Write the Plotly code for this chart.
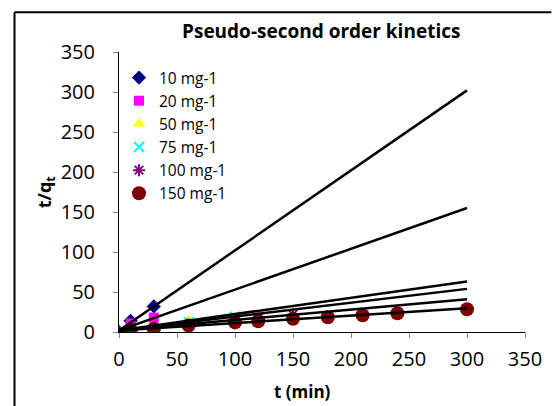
import numpy as np
import plotly.graph_objects as go

# Pseudo-second order kinetic data: t (min) vs t/qt
series_names = ["10 mg-1", "20 mg-1", "50 mg-1", "75 mg-1", "100 mg-1", "150 mg-1"]

t_10 = [0, 10, 30]
y_10 = [0, 14, 32]

t_20 = [0, 10, 30]
y_20 = [0, 10.5, 18]

t_50 = [0, 60]
y_50 = [0, 14]

t_75 = [0, 60, 100]
y_75 = [0, 12, 19]

t_100 = [0, 120, 150]
y_100 = [0, 17, 22]

t_150 = [10, 30, 60, 100, 120, 150, 180, 210, 240, 300]
y_150 = [2.5, 4, 8, 12, 13.5, 16.5, 18.5, 21, 23.5, 28.5]

# Linear fits (t/qt = slope * t + intercept), drawn over 0-300 min
fit_slope = [1.0, 0.51, 0.204, 0.173, 0.13, 0.092]
fit_intercept = [2, 2, 2, 2, 2, 2]
fit_t = [0, 300]

x_ticks = [0, 50, 100, 150, 200, 250, 300, 350]
y_ticks = [0, 50, 100, 150, 200, 250, 300, 350]

series_t = [t_10, t_20, t_50, t_75, t_100, t_150]
series_y = [y_10, y_20, y_50, y_75, y_100, y_150]

markers = [
    dict(symbol="diamond", size=11, color="#000080"),
    dict(symbol="square", size=10, color="#FF00FF"),
    dict(symbol="triangle-up", size=11, color="#FFFF00"),
    dict(symbol="x-thin-open", size=10, color="#00FFFF", line=dict(color="#00FFFF", width=2)),
    dict(symbol="asterisk-open", size=10, color="#800080", line=dict(color="#800080", width=2)),
    dict(symbol="circle", size=14, color="#800000"),
]

fig = go.Figure()

for name, tx, ty, mk in zip(series_names, series_t, series_y, markers):
    fig.add_trace(go.Scatter(x=tx, y=ty, mode="markers", name=name, marker=mk))

for s, b in zip(fit_slope, fit_intercept):
    fx = np.array(fit_t, dtype=float)
    fig.add_trace(go.Scatter(x=fx, y=s * fx + b, mode="lines", showlegend=False,
                             line=dict(color="black", width=2.5), hoverinfo="skip"))

# plot area in pixels: x 119..527, y 52..332.5
L, R, T, B = 119, 527, 52, 332.5
W, H = R - L, B - T


def px(x):
    return (x - L) / W


def py(y):
    return (B - y) / H


font_main = "Open Sans"

fig.update_layout(
    width=554, height=406,
    margin=dict(l=L, r=554 - R, t=T, b=406 - B),
    paper_bgcolor="white", plot_bgcolor="white",
    font=dict(family=font_main, color="black"),
    showlegend=True,
    legend=dict(x=px(119), y=py(61), xanchor="left", yanchor="top",
                font=dict(family=font_main, size=15.5, color="black"),
                bgcolor="rgba(0,0,0,0)", borderwidth=0),
    xaxis=dict(range=[0, 350], tickvals=x_ticks, ticks="outside", ticklen=5,
               tickcolor="#868686", showline=True, linecolor="black", linewidth=1,
               showgrid=False, zeroline=False, tickfont=dict(size=20),
               ticklabelstandoff=4),
    yaxis=dict(range=[0, 350], tickvals=y_ticks, ticks="outside", ticklen=5,
               tickcolor="#868686", showline=True, linecolor="black", linewidth=1,
               showgrid=False, zeroline=False, tickfont=dict(size=20),
               ticklabelstandoff=14),
    annotations=[
        dict(text="<b>Pseudo-second order kinetics</b>", xref="paper", yref="paper",
             x=px(321.5), y=py(31), xanchor="center", yanchor="middle",
             showarrow=False, font=dict(size=19)),
        dict(text="<b>t (min)</b>", xref="paper", yref="paper",
             x=px(303), y=py(392), xanchor="center", yanchor="middle",
             showarrow=False, font=dict(size=17)),
        dict(text="<b>t/q<sub>t</sub></b>", xref="paper", yref="paper",
             x=px(45), y=0.5, xanchor="center", yanchor="middle", textangle=-90,
             showarrow=False, font=dict(size=18)),
    ],
    shapes=[
        dict(type="line", xref="paper", yref="paper", x0=px(14), x1=px(14),
             y0=py(415), y1=py(12.3), line=dict(color="black", width=2)),
        dict(type="line", xref="paper", yref="paper", x0=px(14), x1=px(553.5),
             y0=py(12.3), y1=py(12.3), line=dict(color="black", width=2)),
    ],
)

fig.write_html("out.html")
